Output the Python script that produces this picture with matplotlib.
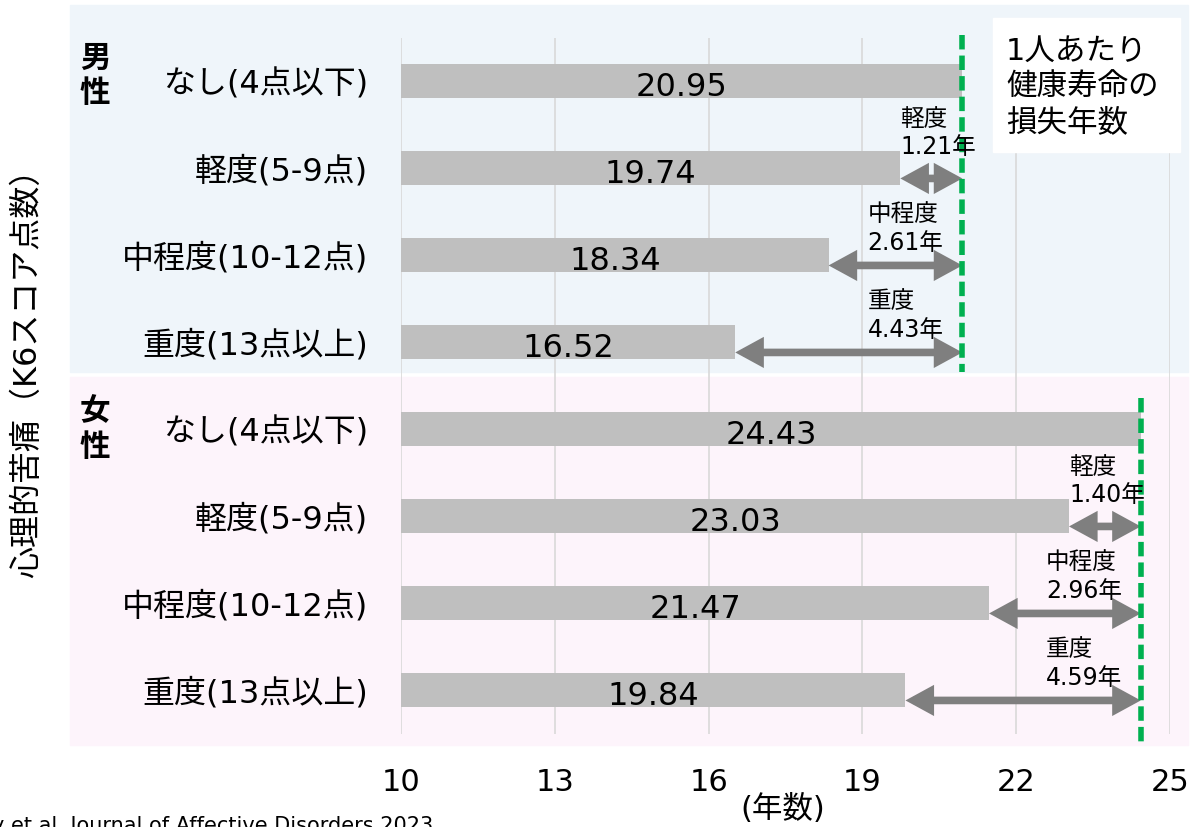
import matplotlib
matplotlib.use("Agg")
import matplotlib.pyplot as plt
from matplotlib.patches import Rectangle

plt.rcParams['font.family'] = ['DejaVu Sans', 'Noto Sans CJK JP']

# healthy life years per person by K6 psychological distress level
levels = ['なし(4点以下)', '軽度(5-9点)', '中程度(10-12点)', '重度(13点以上)']
short_levels = ['軽度', '中程度', '重度']
male_years = [20.95, 19.74, 18.34, 16.52]
female_years = [24.43, 23.03, 21.47, 19.84]
male_loss = [1.21, 2.61, 4.43]
female_loss = [1.40, 2.96, 4.59]
xticks = [10, 13, 16, 19, 22, 25]

W, H = 1193, 827
fig = plt.figure(figsize=(W / 100, H / 100), dpi=100)

def fx(px):
    return px / W

def fy(py):
    return 1 - py / H

# shaded panels behind the male and female groups
fig.add_artist(Rectangle((fx(70), fy(372)), fx(1188) - fx(70), fy(5) - fy(372),
                         transform=fig.transFigure, color='#EFF5FA', zorder=0))
fig.add_artist(Rectangle((fx(70), fy(745)), fx(1188) - fx(70), fy(377) - fy(745),
                         transform=fig.transFigure, color='#FDF4FB', zorder=0))

ax = fig.add_axes([fx(401), fy(733.5), fx(1170) - fx(401), fy(37.5) - fy(733.5)])
ax.patch.set_alpha(0)
for s in ax.spines.values():
    s.set_visible(False)

ax.set_xlim(10, 25)
ax.set_ylim(7.5, -0.5)
ax.set_xticks(xticks)
ax.set_xticklabels([str(t) for t in xticks], fontsize=22)
ax.tick_params(axis='x', length=0, pad=25)
ax.set_yticks(range(8))
ax.set_yticklabels(levels + levels, fontsize=23)
ax.tick_params(axis='y', length=0, pad=24)
ax.grid(axis='x', color='#D9D9D9', lw=1.2)
ax.set_axisbelow(True)

gray = '#BFBFBF'
arrow_gray = '#7F7F7F'
green = '#00B050'

groups = [(male_years, male_loss, 0, (-0.53, 3.34)),
          (female_years, female_loss, 4, (3.64, 7.63))]
for years, loss, off, (y0, y1) in groups:
    base = years[0]
    ys = [off + i for i in range(4)]
    ax.barh(ys, [v - 10 for v in years], left=10, height=0.39, color=gray, zorder=2)
    for y, v in zip(ys, years):
        ax.text((10 + v) / 2, y + 0.07, f'{v:.2f}', ha='center', va='center',
                fontsize=23, color='black', zorder=3)
    ax.plot([base, base], [y0, y1], color=green, lw=4, ls=(0, (2.6, 1.1)),
            clip_on=False, zorder=4)
    for i in range(1, 4):
        y = off + i
        v = years[i]
        ax.annotate('', xy=(base, y + 0.12), xytext=(v, y + 0.12),
                    arrowprops=dict(arrowstyle='<|-|>,head_length=0.55,head_width=0.3',
                                    color=arrow_gray, lw=5.5, mutation_scale=22,
                                    shrinkA=0, shrinkB=0, joinstyle='miter',
                                    capstyle='butt'),
                    zorder=3)
        tx = v if i == 1 else base - 1.85
        ty = y - 0.1 if i == 1 else y - 0.0
        ax.text(tx, ty, f'{short_levels[i - 1]}\n{loss[i - 1]:.2f}年', ha='left',
                va='bottom', fontsize=17, linespacing=1.25, zorder=5)

# group labels
fig.text(fx(95), fy(76), '男\n性', ha='center', va='center', fontsize=22,
         fontweight='bold', linespacing=1.3)
fig.text(fx(95), fy(430), '女\n性', ha='center', va='center', fontsize=22,
         fontweight='bold', linespacing=1.3)

# legend box
fig.add_artist(Rectangle((fx(993), fy(152)), fx(1180) - fx(993), fy(18) - fy(152),
                         transform=fig.transFigure, color='white', zorder=6))
fig.text(fx(1006), fy(87), '1人あたり\n健康寿命の\n損失年数', ha='left', va='center',
         fontsize=22, linespacing=1.3, zorder=7)

fig.text(fx(28), fy(365), '心理的苦痛（K6スコア点数）', rotation=90, ha='center',
         va='center', fontsize=23)
fig.text(fx(783), fy(809), '(年数)', ha='center', va='center', fontsize=22)
fig.text(fx(-8), fy(826), 'y et al. Journal of Affective Disorders 2023', ha='left',
         va='center', fontsize=15)

fig.savefig('out.png', dpi=100)
